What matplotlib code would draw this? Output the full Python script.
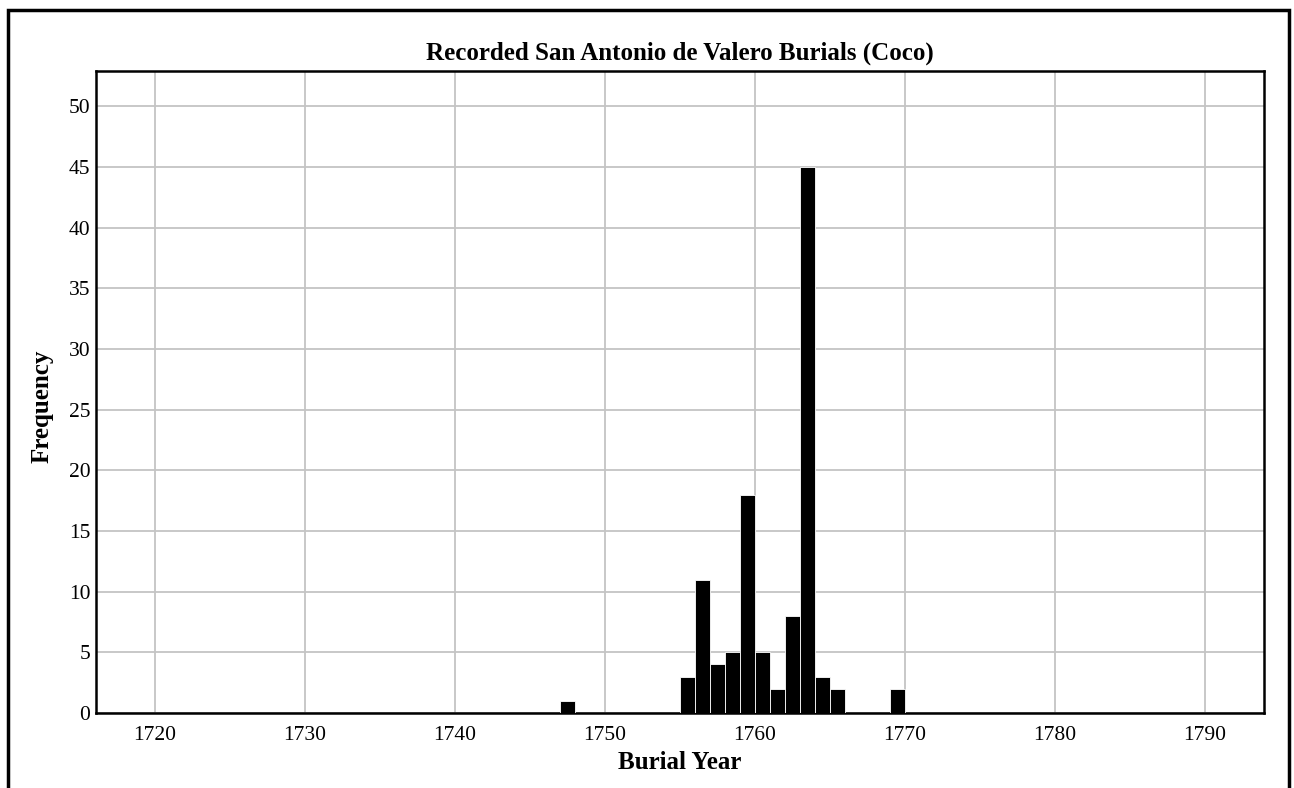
import matplotlib
matplotlib.use("Agg")
import matplotlib.pyplot as plt
from matplotlib.patches import Rectangle

# burial counts per year
years = [1747, 1755, 1756, 1757, 1758, 1759, 1760, 1761, 1762, 1763, 1764, 1765, 1769]
counts = [1, 3, 11, 4, 5, 18, 5, 2, 8, 45, 3, 2, 2]

xticks = list(range(1720, 1791, 10))
yticks = list(range(0, 51, 5))

plt.rcParams['font.family'] = ['Liberation Serif', 'DejaVu Serif']

fig = plt.figure(figsize=(12.94, 7.88), dpi=100)
ax = fig.add_axes([96 / 1294, 75 / 788, 1168 / 1294, 642 / 788])

ax.bar(years, counts, width=1.0, align='edge', color='black',
       edgecolor='white', linewidth=0.6, zorder=3)

ax.set_xlim(1716.07, 1793.93)
ax.set_ylim(0, 52.9)
ax.set_xticks(xticks)
ax.set_yticks(yticks)
ax.tick_params(axis='x', length=0, labelsize=15.5, pad=9)
ax.tick_params(axis='y', length=0, labelsize=15.5, pad=4)
ax.grid(True, color='#c4c4c4', linewidth=1.3, zorder=0)
for s in ax.spines.values():
    s.set_linewidth(1.8)
    s.set_color('black')

ax.set_title('Recorded San Antonio de Valero Burials (Coco)', fontsize=18,
             fontweight='bold', pad=8)
ax.set_xlabel('Burial Year', fontsize=18, fontweight='bold', labelpad=5)
ax.set_ylabel('Frequency', fontsize=18, fontweight='bold')
ax.yaxis.set_label_coords(-0.036, 0.478)

# outer frame round the whole chart
fig.patches.append(Rectangle((8 / 1294, -0.05), 1281 / 1294, 1.05 - 10 / 788,
                             transform=fig.transFigure, fill=False,
                             edgecolor='black', linewidth=2.5))

fig.savefig('out.png', dpi=100)
